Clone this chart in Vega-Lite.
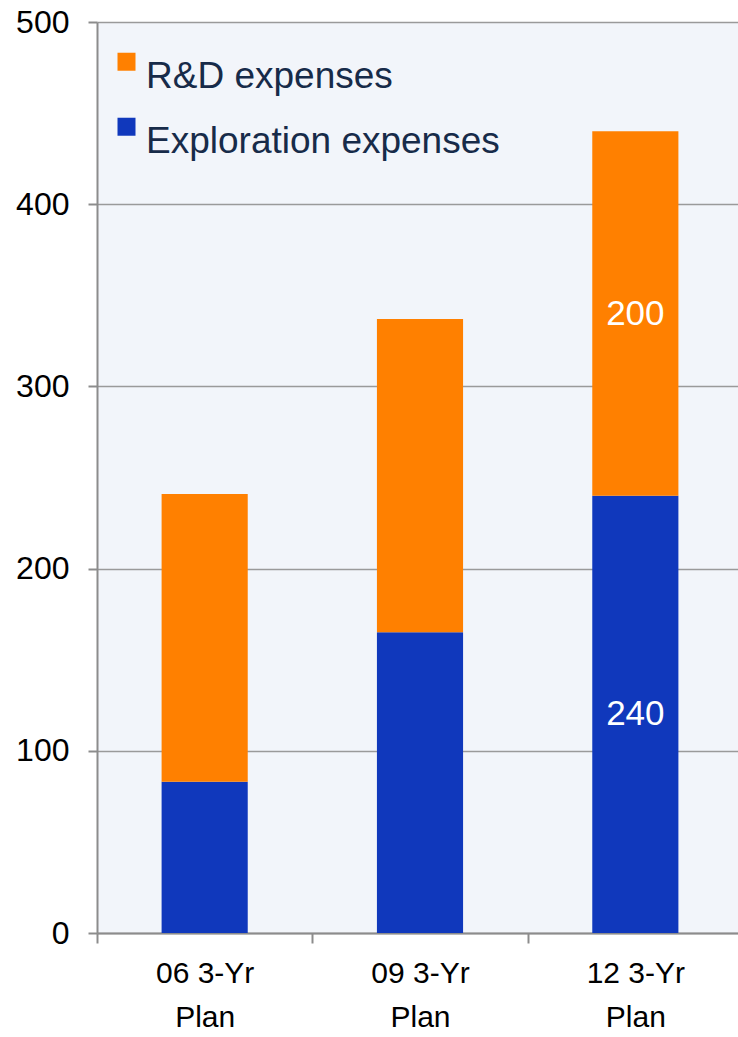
{
  "$schema": "https://vega.github.io/schema/vega-lite/v6.json",
  "autosize": "none",
  "width": 641,
  "height": 911,
  "padding": {"left": 97, "top": 22, "right": 0, "bottom": 104},
  "background": "white",
  "config": {
    "view": {"stroke": null, "fill": "#F2F5FA"},
    "font": "Liberation Sans"
  },
  "data": {
    "values": [
      {"plan": "06 3-Yr Plan", "type": "Exploration expenses", "value": 83, "order": 1, "show": false},
      {"plan": "06 3-Yr Plan", "type": "R&D expenses", "value": 158, "order": 2, "show": false},
      {"plan": "09 3-Yr Plan", "type": "Exploration expenses", "value": 165, "order": 1, "show": false},
      {"plan": "09 3-Yr Plan", "type": "R&D expenses", "value": 172, "order": 2, "show": false},
      {"plan": "12 3-Yr Plan", "type": "Exploration expenses", "value": 240, "order": 1, "show": true},
      {"plan": "12 3-Yr Plan", "type": "R&D expenses", "value": 200, "order": 2, "show": true}
    ]
  },
  "encoding": {
    "x": {
      "field": "plan",
      "type": "nominal",
      "title": null,
      "scale": {"paddingInner": 0, "paddingOuter": 0, "range": [0, 646]},
      "axis": {
        "labelAngle": 0,
        "labelExpr": "datum.label ? [replace(datum.label, ' Plan', ''), 'Plan'] : ''",
        "labelFont": "Liberation Sans",
        "labelFontSize": 30,
        "labelColor": "black",
        "labelLineHeight": 44,
        "labelPadding": 15,
        "labelBaseline": "top",
        "tickBand": "extent",
        "tickSize": 10,
        "tickColor": "#8C8C8C",
        "tickWidth": 2,
        "domainColor": "#8C8C8C",
        "domainWidth": 2,
        "grid": false
      }
    }
  },
  "layer": [
    {
      "mark": {"type": "bar", "width": {"band": 0.4}},
      "encoding": {
        "y": {
          "field": "value",
          "type": "quantitative",
          "stack": "zero",
          "title": null,
          "scale": {"domain": [0, 500], "nice": false},
          "axis": {
            "values": [0, 100, 200, 300, 400, 500],
            "labelFontSize": 32,
            "labelColor": "black",
            "labelPadding": 19,
            "tickSize": 9,
            "tickColor": "#8C8C8C",
            "tickWidth": 2,
            "domainColor": "#8C8C8C",
            "domainWidth": 2,
            "gridColor": "#9A9A9A",
            "gridWidth": 1.5
          }
        },
        "color": {
          "field": "type",
          "type": "nominal",
          "scale": {"domain": ["R&D expenses", "Exploration expenses"], "range": ["#FF8000", "#1038BC"]},
          "legend": {
            "title": null,
            "orient": "none",
            "legendX": 11,
            "legendY": 36,
            "symbolType": "M-1,-2.64H1V-0.64H-1Z",
            "symbolSize": 324,
            "symbolStrokeWidth": 0,
            "symbolOpacity": 1,
            "labelFontSize": 37,
            "labelColor": "#172B49",
            "labelOffset": 1,
            "rowPadding": 22,
            "labelLimit": 600
          }
        },
        "order": {"field": "order", "type": "quantitative"}
      }
    },
    {
      "transform": [
        {"stack": "value", "groupby": ["plan"], "sort": [{"field": "order"}], "as": ["v0", "v1"]},
        {"filter": "datum.show"},
        {"fold": ["v0", "v1"], "as": ["k", "pos"]}
      ],
      "mark": {"type": "text", "color": "white", "fontSize": 35, "baseline": "middle", "align": "center"},
      "encoding": {
        "y": {"aggregate": "mean", "field": "pos", "type": "quantitative", "title": null},
        "text": {"field": "value", "type": "quantitative"}
      }
    }
  ]
}
